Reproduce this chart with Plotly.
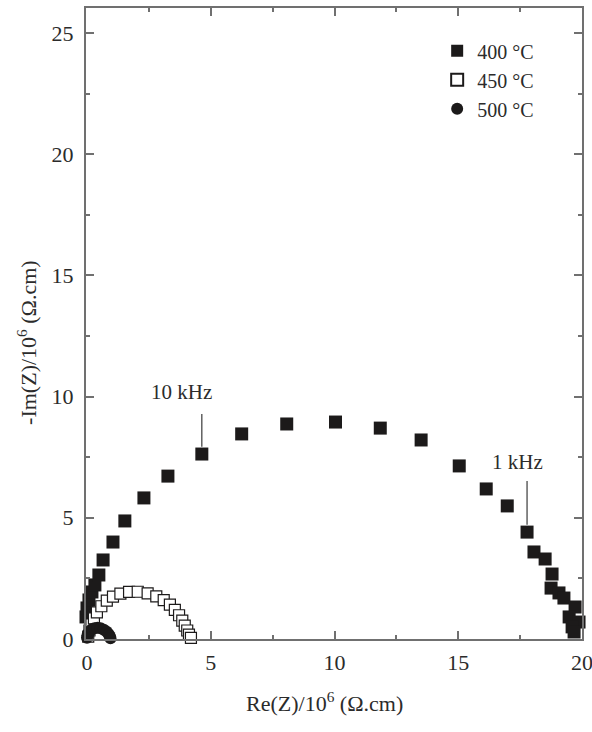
import plotly.graph_objects as go

# ---- data (Re(Z)/10^6, -Im(Z)/10^6) ----
X400 = [-0.1, -0.08, -0.04, 0.0, 0.08, 0.2, 0.32, 0.48, 0.65, 1.05, 1.53, 2.30, 3.27, 4.64,
        6.25, 8.07, 10.04, 11.85, 13.5, 15.04, 16.13, 16.98, 17.78, 18.06, 18.51, 18.79,
        18.75, 19.07, 19.27, 19.72, 19.48, 19.88, 19.60, 19.68]
Y400 = [0.25, 0.58, 0.91, 1.28, 1.61, 1.94, 2.23, 2.64, 3.26, 4.00, 4.87, 5.82, 6.72, 7.63,
        8.46, 8.87, 8.95, 8.70, 8.21, 7.14, 6.19, 5.49, 4.41, 3.59, 3.30, 2.68,
        2.10, 1.90, 1.69, 1.32, 0.91, 0.70, 0.50, 0.29]

X450 = [0.05, 0.1, 0.18, 0.28, 0.4, 0.58, 0.8, 1.05, 1.35, 1.7, 2.05, 2.45, 2.8, 3.1,
        3.35, 3.55, 3.72, 3.85, 3.95, 4.05, 4.12, 4.2]
Y450 = [0.1, 0.35, 0.6, 0.85, 1.1, 1.35, 1.58, 1.75, 1.87, 1.94, 1.95, 1.88, 1.76, 1.6,
        1.42, 1.2, 0.98, 0.76, 0.55, 0.35, 0.18, 0.05]

X500 = [0.0, 0.02, 0.06, 0.12, 0.2, 0.3, 0.42, 0.55, 0.68, 0.8, 0.88, 0.93, 0.95]
Y500 = [0.05, 0.15, 0.25, 0.33, 0.4, 0.44, 0.46, 0.44, 0.38, 0.3, 0.2, 0.1, 0.03]

SERIES_NAMES = ["400 \u00b0C", "450 \u00b0C", "500 \u00b0C"]
FREQ_LABELS = ["10 kHz", "1 kHz"]
FREQ_INDEX = [13, 22]

X_TICKS = [0, 5, 10, 15, 20]
Y_TICKS = [0, 5, 10, 15, 20, 25]

FONT = "Liberation Serif, Times New Roman, serif"
TXT = "#2b2b2b"
AX = "#707070"
MK = "#1c1a1a"

fig = go.Figure()
fig.add_trace(go.Scatter(x=X400, y=Y400, mode="markers", name=SERIES_NAMES[0],
                         marker=dict(symbol="square", size=13, color=MK, line=dict(width=0)),
                         cliponaxis=False))
fig.add_trace(go.Scatter(x=X450, y=Y450, mode="markers", name=SERIES_NAMES[1],
                         marker=dict(symbol="square", size=11, color="white",
                                     line=dict(width=1.2, color=MK)),
                         cliponaxis=False))
fig.add_trace(go.Scatter(x=X500, y=Y500, mode="markers", name=SERIES_NAMES[2],
                         marker=dict(symbol="circle", size=12, color=MK, line=dict(width=0)),
                         cliponaxis=False))

# frequency markers
line_off = [(0.30, 1.65), (0.30, 2.11)]
text_off = [(-0.81, 2.55), (-0.40, 2.9)]
for lab, idx, (l0, l1), (tx, ty) in zip(FREQ_LABELS, FREQ_INDEX, line_off, text_off):
    px, py = X400[idx], Y400[idx]
    fig.add_shape(type="line", x0=px, x1=px, y0=py + l0, y1=py + l1,
                  line=dict(color="#3a3a3a", width=1.2), layer="above")
    fig.add_annotation(x=px + tx, y=py + ty, text=lab, showarrow=False,
                       font=dict(family=FONT, size=21, color=TXT))

axis_common = dict(showgrid=False, zeroline=False, showline=True, linecolor=AX, linewidth=2,
                   mirror="allticks", ticks="inside", ticklen=8, tickwidth=1.5, tickcolor=AX,
                   tickfont=dict(family=FONT, size=22, color=TXT), ticklabeloverflow="allow",
                   automargin=False,
                   minor=dict(ticks="inside", ticklen=4, tickwidth=1.5, tickcolor=AX, dtick=2.5))

fig.update_xaxes(range=[-0.04, 20], tickvals=X_TICKS, ticklabelstandoff=3, **axis_common)
fig.update_yaxes(range=[0, 26.03], tickvals=Y_TICKS, ticklabelstandoff=6, **axis_common)

fig.add_annotation(xref="paper", yref="paper", x=0.48, y=-0.1, yanchor="middle",
                   text="Re(Z)/10<sup>6</sup> (\u03a9.cm)", showarrow=False,
                   font=dict(family=FONT, size=22, color=TXT))
fig.add_annotation(xref="paper", yref="paper", x=-0.118, y=0.47, xanchor="center",
                   textangle=-90, text="-Im(Z)/10<sup>6</sup> (\u03a9.cm)", showarrow=False,
                   font=dict(family=FONT, size=22, color=TXT))

fig.update_layout(
    width=592, height=732,
    margin=dict(l=86, r=10, t=8, b=93, autoexpand=False),
    paper_bgcolor="white", plot_bgcolor="white",
    showlegend=True,
    legend=dict(x=0.708, y=0.963, xanchor="left", yanchor="top",
                bgcolor="rgba(0,0,0,0)", font=dict(family=FONT, size=20, color=TXT),
                itemsizing="constant", tracegroupgap=0),
)

fig.write_html("out.html")
